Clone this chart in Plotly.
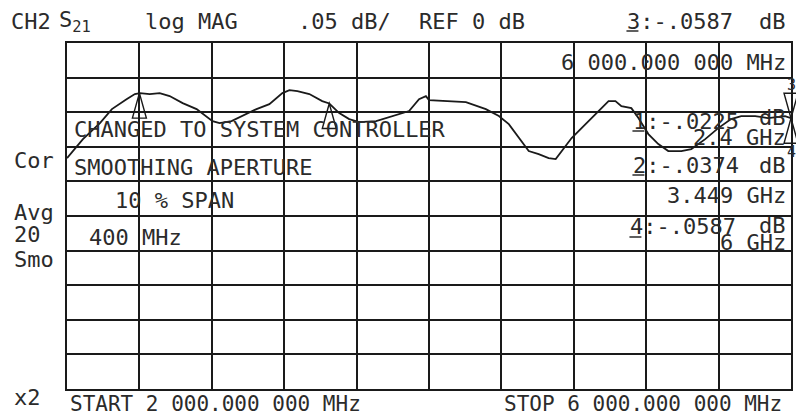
import plotly.graph_objects as go

# ---------------- data ----------------
freq_ghz = [2.000, 2.088, 2.182, 2.248, 2.331, 2.375, 2.403, 2.457, 2.512, 2.567,
            2.639, 2.716, 2.804, 2.843, 2.909, 2.970, 3.047, 3.118, 3.190, 3.229,
            3.273, 3.339, 3.410, 3.449, 3.504, 3.559, 3.614, 3.708, 3.796, 3.890,
            3.945, 3.983, 4.000, 4.127, 4.204, 4.314, 4.386, 4.441, 4.496, 4.551,
            4.606, 4.661, 4.700, 4.733, 4.788, 4.865, 4.937, 4.992, 5.030, 5.063,
            5.118, 5.157, 5.212, 5.267, 5.322, 5.394, 5.449, 5.526, 5.598, 5.669,
            5.725, 5.802, 5.873, 5.967, 6.000]
s21_db = [-0.1163, -0.0889, -0.0658, -0.0455, -0.0311, -0.0238, -0.0225, -0.0238, -0.0224, -0.0267,
          -0.0369, -0.0455, -0.0629, -0.0658, -0.0629, -0.0556, -0.0455, -0.0383, -0.0224, -0.0181,
          -0.0195, -0.0238, -0.0340, -0.0374, -0.0513, -0.0600, -0.0643, -0.0629, -0.0556, -0.0484,
          -0.0311, -0.0267, -0.0325, -0.0340, -0.0354, -0.0455, -0.0556, -0.0672, -0.0874, -0.1062,
          -0.1105, -0.1163, -0.1178, -0.1062, -0.0874, -0.0672, -0.0484, -0.0340, -0.0340, -0.0412,
          -0.0441, -0.0585, -0.0816, -0.0961, -0.1062, -0.1062, -0.1033, -0.0889, -0.0730, -0.0600,
          -0.0556, -0.0556, -0.0585, -0.0556, -0.0587]

marker_ids = [1, 2, 3, 4]
marker_freq_ghz = [2.4, 3.449, 6.0, 6.0]
marker_db = [-0.0225, -0.0374, -0.0587, -0.0587]
marker_freq_label = ["2.4 GHz", "3.449 GHz", "6 000.000 000 MHz", "6 GHz"]
marker_db_label = ["-.0225", "-.0374", "-.0587", "-.0587"]
active_marker = 3

header_texts = ["CH2", "S<sub>21</sub>", "log MAG", ".05 dB/", "REF 0 dB"]
status_texts = ["Cor", "Avg", "20", "Smo", "x2"]
message_texts = ["CHANGED TO SYSTEM CONTROLLER", "SMOOTHING APERTURE", "10 % SPAN", "400 MHz"]
start_label = "START 2 000.000 000 MHz"
stop_label = "STOP 6 000.000 000 MHz"

X_RANGE = [2.0, 6.0]
Y_RANGE = [-0.45, 0.05]

# ---------------- layout geometry (page pixels) ----------------
PAGE_W, PAGE_H = 804, 417
OFF = 8                       # default body margin of the html page
W, H = PAGE_W - OFF, PAGE_H - OFF
PL, PR, PT, PB = 67, 793, 43, 389
PW, PH = PR - PL, PB - PT

FONT = "DejaVu Sans Mono"
TXT = "#2b2b2b"
LINE = "#1a1a1a"


def px2paper(x, y):
    return (x - PL) / PW, (PB - y) / PH


def data2paper(f, v):
    return ((f - X_RANGE[0]) / (X_RANGE[1] - X_RANGE[0]),
            (v - Y_RANGE[0]) / (Y_RANGE[1] - Y_RANGE[0]))


annotations = []
shapes = []


def label(text, x, y, anchor="left", size=22):
    px, py = px2paper(x, y)
    annotations.append(dict(text=text, x=px, y=py, xref="paper", yref="paper",
                            xanchor=anchor, yanchor="middle", showarrow=False,
                            font=dict(family=FONT, size=size, color=TXT)))


def underline(x, y, w=12):
    x0, y0 = px2paper(x, y)
    x1, _ = px2paper(x + w, y)
    shapes.append(dict(type="line", xref="paper", yref="paper", x0=x0, x1=x1,
                       y0=y0, y1=y0, line=dict(color=TXT, width=1.5)))


# header line
hx = [9, 57, 143, 297, 418]
for t, x in zip(header_texts, hx):
    label(t, x, 21)
label(f"{active_marker}:{marker_db_label[2]}", 627, 21)
underline(628, 31)
label("dB", 790, 21, anchor="right")
label(marker_freq_label[2], 790, 63, anchor="right")

# left status column
for t, y in zip(status_texts, [160, 212, 235, 259, 397]):
    label(t, 12, y)

# message text inside the grid
for t, x, y in zip(message_texts, [72, 72, 113, 87], [130, 167, 200, 237]):
    label(t, x, y)

# start / stop
label(start_label, 68, 404, size=21)
label(stop_label, 786, 404, anchor="right", size=21)

# marker list (markers 1, 2, 4)
list_rows = {1: (633, 121, 118, 137), 2: (633, 165, 165, 195), 4: (630, 227, 225, 243)}
for i, mid in enumerate(marker_ids):
    if mid not in list_rows:
        continue
    x0, yv, yd, yf = list_rows[mid]
    label(f"{mid}:{marker_db_label[i]}", x0, yv)
    underline(x0 + 1, yv + 10)
    label("dB", 790, yd, anchor="right")
    label(marker_freq_label[i], 790, yf, anchor="right")

# marker triangles (paper-ref shapes, derived from marker data)
TRI_HW, TRI_H = 7, 25
for mid, f, v in zip(marker_ids, marker_freq_ghz, marker_db):
    ax, ay = data2paper(f, v)
    dx, dy = TRI_HW / PW, TRI_H / PH
    if mid == active_marker:
        by = ay + dy   # pointing down, above trace
    else:
        by = ay - dy   # pointing up, below trace
    path = f"M{ax},{ay} L{ax - dx},{by} L{ax + dx},{by} Z"
    shapes.append(dict(type="path", path=path, xref="paper", yref="paper",
                       line=dict(color=LINE, width=1.4), layer="above"))
    if mid in (3, 4):
        lx = PL + ax * PW
        ly = PB - by * PH + (-8 if mid == active_marker else 9)
        label(str(mid), lx, ly, anchor="center", size=15)

fig = go.Figure()
fig.add_trace(go.Scatter(x=freq_ghz, y=s21_db, mode="lines",
                         line=dict(color=LINE, width=1.8), hoverinfo="skip"))

fig.update_layout(
    width=W, height=H,
    margin=dict(l=PL - OFF, r=PAGE_W - PR, t=PT - OFF, b=PAGE_H - PB),
    paper_bgcolor="white", plot_bgcolor="white",
    showlegend=False,
    annotations=annotations,
    shapes=shapes,
)
axis_common = dict(showticklabels=False, ticks="", zeroline=False,
                   showgrid=True, gridcolor=LINE, gridwidth=1.5,
                   showline=True, linecolor=LINE, linewidth=2, mirror=True)
fig.update_xaxes(range=X_RANGE, tick0=2.0, dtick=0.4, **axis_common)
fig.update_yaxes(range=Y_RANGE, tick0=0.0, dtick=0.05, **axis_common)

fig.write_html("out.html")
